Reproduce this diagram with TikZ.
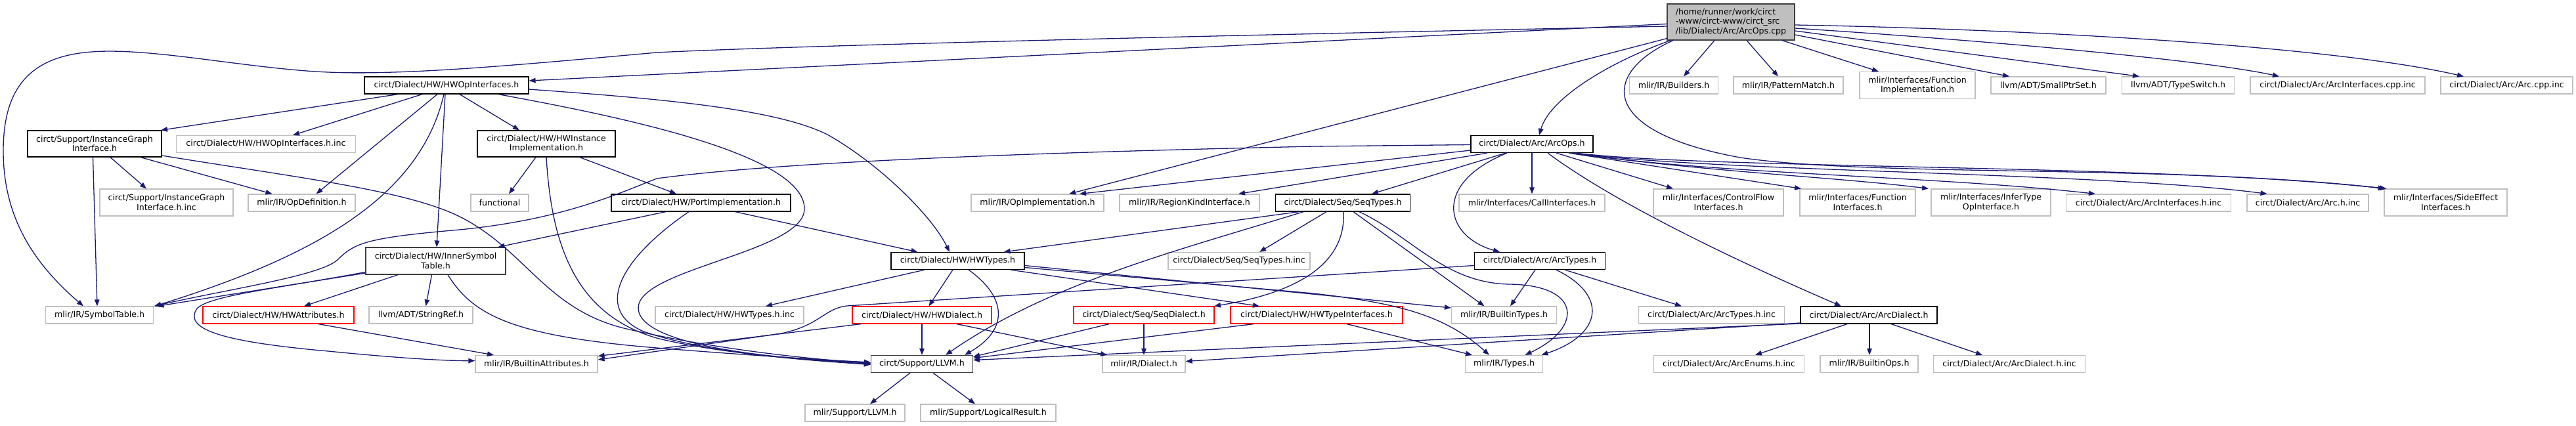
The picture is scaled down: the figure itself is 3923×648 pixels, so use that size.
\documentclass[tikz,border=0pt]{standalone}
\usepackage{fontspec}
\setmainfont{DejaVu Sans}
\usetikzlibrary{arrows.meta}
\definecolor{edgeblue}{HTML}{191970}
\definecolor{extgrey}{HTML}{BFBFBF}
\definecolor{maingrey}{HTML}{BFBFBF}
\definecolor{darkbd}{HTML}{404040}
\newcommand\dxfont{\fontsize{12.6}{14.5}\selectfont}
\begin{document}
\begin{tikzpicture}[x=1pt,y=-1pt,
  box/.style={rectangle, inner sep=0pt, minimum height=26pt, font=\dxfont, align=center, line width=1.2pt},
  doc/.style={box, draw=black},
  dark/.style={box, draw=darkbd},
  ext/.style={box, draw=extgrey},
  trunc/.style={box, draw=red},
  mainbox/.style={box, draw=darkbd, fill=maingrey, align=left},
  edge/.style={draw=edgeblue, line width=1.3pt, -{Triangle[length=10pt,width=7.5pt]}}]
\useasboundingbox (0,0) rectangle (3923,648);
% row 0
\node[mainbox, minimum width=194pt, minimum height=55pt] (main) at (2636,33.5) {/home/runner/work/circt\\-www/circt-www/circt\_src\\/lib/Dialect/Arc/ArcOps.cpp};
% row 1
\node[doc, minimum width=250pt] (hwopi) at (680,130) {circt/Dialect/HW/HWOpInterfaces.h};
\node[ext, minimum width=135pt] (builders) at (2549,130) {mlir/IR/Builders.h};
\node[ext, minimum width=167pt] (patmatch) at (2723.5,130) {mlir/IR/PatternMatch.h};
\node[ext, minimum width=176pt, minimum height=41pt] (funcimpl) at (2920,130) {mlir/Interfaces/Function\\Implementation.h};
\node[ext, minimum width=175pt] (smallptr) at (3119.5,130) {llvm/ADT/SmallPtrSet.h};
\node[ext, minimum width=171pt] (typeswitch) at (3317,130) {llvm/ADT/TypeSwitch.h};
\node[ext, minimum width=266pt] (arcintcpp) at (3560,130) {circt/Dialect/Arc/ArcInterfaces.cpp.inc};
\node[ext, minimum width=201pt] (arccppinc) at (3817.5,130) {circt/Dialect/Arc/Arc.cpp.inc};
% row 2
\node[doc, minimum width=204pt, minimum height=40pt] (igi) at (144,219) {circt/Support/InstanceGraph\\Interface.h};
\node[ext, minimum width=273pt] (hwopiinc) at (405,219.5) {circt/Dialect/HW/HWOpInterfaces.h.inc};
\node[doc, minimum width=210pt, minimum height=40pt] (hwinst) at (832,219) {circt/Dialect/HW/HWInstance\\Implementation.h};
\node[doc, minimum width=186pt] (arcopsh) at (2333,219.5) {circt/Dialect/Arc/ArcOps.h};
% row 3
\node[ext, minimum width=203pt, minimum height=41pt] (igiinc) at (253.5,308.5) {circt/Support/InstanceGraph\\Interface.h.inc};
\node[ext, minimum width=163pt] (opdef) at (459.5,309) {mlir/IR/OpDefinition.h};
\node[ext, minimum width=88pt] (functional) at (761,309) {functional};
\node[doc, minimum width=273pt] (portimpl) at (1067.5,309) {circt/Dialect/HW/PortImplementation.h};
\node[ext, minimum width=202pt] (opimpl) at (1580,309) {mlir/IR/OpImplementation.h};
\node[ext, minimum width=213pt] (regionkind) at (1811.5,309) {mlir/IR/RegionKindInterface.h};
\node[doc, minimum width=205pt] (seqtypes) at (2045,309) {circt/Dialect/Seq/SeqTypes.h};
\node[ext, minimum width=222pt] (callint) at (2333,309) {mlir/Interfaces/CallInterfaces.h};
\node[ext, minimum width=198pt, minimum height=41pt] (cfint) at (2617,308.5) {mlir/Interfaces/ControlFlow\\Interfaces.h};
\node[ext, minimum width=176pt, minimum height=41pt] (fnint) at (2829,308.5) {mlir/Interfaces/Function\\Interfaces.h};
\node[ext, minimum width=182pt, minimum height=41pt] (infertype) at (3032,308.5) {mlir/Interfaces/InferType\\OpInterface.h};
\node[ext, minimum width=251pt] (arcinthinc) at (3272,309) {circt/Dialect/Arc/ArcInterfaces.h.inc};
\node[ext, minimum width=185pt] (archinc) at (3514.5,309) {circt/Dialect/Arc/Arc.h.inc};
\node[ext, minimum width=187pt, minimum height=41pt] (sideeff) at (3724.5,308.5) {mlir/Interfaces/SideEffect\\Interfaces.h};
% row 4
\node[dark, minimum width=213pt, minimum height=41pt] (innersym) at (663.5,397.5) {circt/Dialect/HW/InnerSymbol\\Table.h};
\node[doc, minimum width=203pt] (hwtypes) at (1458.5,397.5) {circt/Dialect/HW/HWTypes.h};
\node[ext, minimum width=216pt] (seqtypesinc) at (1887,397.5) {circt/Dialect/Seq/SeqTypes.h.inc};
\node[doc, minimum width=199pt] (arctypes) at (2345,397.5) {circt/Dialect/Arc/ArcTypes.h};
% row 5
\node[ext, minimum width=164pt] (symtab) at (151.5,480) {mlir/IR/SymbolTable.h};
\node[trunc, minimum width=230pt] (hwattr) at (424,480) {circt/Dialect/HW/HWAttributes.h};
\node[ext, minimum width=158pt] (stringref) at (641,480) {llvm/ADT/StringRef.h};
\node[ext, minimum width=226pt] (hwtypesinc) at (1111,480) {circt/Dialect/HW/HWTypes.h.inc};
\node[trunc, minimum width=212pt] (hwdialect) at (1404,480) {circt/Dialect/HW/HWDialect.h};
\node[trunc, minimum width=214pt] (seqdialect) at (1742,480) {circt/Dialect/Seq/SeqDialect.h};
\node[trunc, minimum width=262pt] (hwtypeint) at (2005,480) {circt/Dialect/HW/HWTypeInterfaces.h};
\node[ext, minimum width=160pt] (builtintypes) at (2290.5,480) {mlir/IR/BuiltinTypes.h};
\node[ext, minimum width=222pt] (arctypesinc) at (2606.5,480) {circt/Dialect/Arc/ArcTypes.h.inc};
\node[doc, minimum width=208pt] (arcdialect) at (2846,480) {circt/Dialect/Arc/ArcDialect.h};
% row 6
\node[ext, minimum width=186pt] (builtinattr) at (817,554.5) {mlir/IR/BuiltinAttributes.h};
\node[dark, minimum width=155pt] (llvmh) at (1404,554.5) {circt/Support/LLVM.h};
\node[ext, minimum width=126pt] (dialecth) at (1742,554.5) {mlir/IR/Dialect.h};
\node[ext, minimum width=118pt] (typesh) at (2290.5,554.5) {mlir/IR/Types.h};
\node[ext, minimum width=229pt] (arcenums) at (2633,554.5) {circt/Dialect/Arc/ArcEnums.h.inc};
\node[ext, minimum width=149pt] (builtinops) at (2846.5,554.5) {mlir/IR/BuiltinOps.h};
\node[ext, minimum width=231pt] (arcdialinc) at (3060,554.5) {circt/Dialect/Arc/ArcDialect.h.inc};
% row 7
\node[ext, minimum width=152pt] (mlirllvm) at (1302,629) {mlir/Support/LLVM.h};
\node[ext, minimum width=206pt] (logicalres) at (1505,629) {mlir/Support/LogicalResult.h};

% ---- edges from main
\draw[edge] ([yshift=-3pt]main.west) -- ([yshift=7pt]hwopi.east);
\draw[edge] ([yshift=-6.5pt]main.west) .. controls (1800,55) and (1200,70) .. (1000,80)
  .. controls (800,98) and (620,115) .. (500,110) .. controls (380,105) and (230,72) .. (140,79)
  .. controls (40,86) and (5,140) .. (5,230) .. controls (5,330) and (50,400) .. ([xshift=-24.5pt]symtab.north);
\draw[edge] ([xshift=-92pt]main.south) .. controls (2450,95) and (2360,150) .. ([xshift=11pt]arcopsh.north);
\draw[edge] ([yshift=3pt]main.south west) -- ([xshift=48pt]opimpl.north);
\draw[edge] ([xshift=-25pt]main.south) -- ([xshift=15pt]builders.north);
\draw[edge] ([xshift=24pt]main.south) -- ([xshift=-15.5pt]patmatch.north);
\draw[edge] ([xshift=78pt]main.south) -- ([xshift=-59pt]funcimpl.north);
\draw[edge] ([yshift=-19.5pt]main.east) -- ([xshift=-59.5pt]smallptr.north);
\draw[edge] ([yshift=-13.5pt]main.east) -- ([xshift=-59pt]typeswitch.north);
\draw[edge] ([yshift=-9.5pt]main.east) .. controls (3000,60) and (3350,90) .. ([xshift=-89pt]arcintcpp.north);
\draw[edge] ([yshift=-4.5pt]main.east) .. controls (3100,45) and (3550,70) .. ([xshift=-65.5pt]arccppinc.north);
\draw[edge] ([xshift=-88pt]main.south) .. controls (2440,110) and (2430,200) .. (2650,240)
  .. controls (2850,270) and (3300,250) .. ([xshift=-90pt]sideeff.north);
% ---- edges from ArcOps.h
\draw[edge] ([yshift=-1pt]arcopsh.west) -- (2000,223) .. controls (1600,232) and (1200,245) .. (1000,272)
  .. controls (930,300) and (850,335) .. (700,350) .. controls (560,362) and (540,370) .. (515,395)
  .. controls (490,420) and (350,440) .. ([xshift=83pt]symtab.north);
\draw[edge] ([yshift=-9.5pt]arcopsh.west) -- ([xshift=64pt]opimpl.north);
\draw[edge] ([xshift=-68pt]arcopsh.south) -- ([xshift=74.5pt]regionkind.north);
\draw[edge] ([xshift=-40pt]arcopsh.south) -- ([xshift=44pt]seqtypes.north);
\draw[edge] (arcopsh.south) -- (callint.north);
\draw[edge] ([xshift=-38pt]arcopsh.south) .. controls (2180,280) and (2200,360) .. ([xshift=-61pt]arctypes.north);
\draw[edge] ([xshift=24pt]arcopsh.south) .. controls (2460,310) and (2650,400) .. ([xshift=-42pt]arcdialect.north);
\draw[edge] ([xshift=37pt]arcopsh.south) -- ([xshift=-69pt]cfint.north);
\draw[edge] ([xshift=56pt]arcopsh.south) -- ([xshift=-86pt]fnint.north);
\draw[edge] ([xshift=59pt]arcopsh.south) .. controls (2600,262) and (2800,270) .. ([xshift=-95pt]infertype.north);
\draw[edge] ([xshift=62pt]arcopsh.south) .. controls (2600,265) and (2950,268) .. ([xshift=-81pt]arcinthinc.north);
\draw[edge] ([xshift=65pt]arcopsh.south) .. controls (2600,262) and (3200,262) .. ([xshift=-62pt]archinc.north);
\draw[edge] ([xshift=67pt]arcopsh.south) .. controls (2600,258) and (3300,250) .. ([xshift=-93pt]sideeff.north);
% ---- edges from HWOpInterfaces.h
\draw[edge] ([xshift=-74pt]hwopi.south) -- ([xshift=101pt]igi.north);
\draw[edge] ([xshift=-37pt]hwopi.south) -- ([xshift=41pt]hwopiinc.north);
\draw[edge] ([xshift=-14pt]hwopi.south) -- ([xshift=22pt]opdef.north);
\draw[edge] ([xshift=-4pt]hwopi.south) .. controls (640,300) and (480,390) .. ([xshift=84pt]symtab.north);
\draw[edge] ([xshift=-2pt]hwopi.south) -- ([xshift=1.5pt]innersym.north);
\draw[edge] ([xshift=20pt]hwopi.south) -- ([xshift=-41pt]hwinst.north);
\draw[edge] ([yshift=-6pt]hwopi.east) .. controls (1000,150) and (1180,165) .. (1260,205)
  .. controls (1340,250) and (1420,330) .. ([xshift=-12.5pt]hwtypes.north);
\draw[edge] ([xshift=79pt]hwopi.south) .. controls (900,170) and (1230,230) .. (1225,320)
  .. controls (1220,385) and (970,410) .. (972,470) .. controls (975,530) and (1200,548) .. ([yshift=2pt]llvmh.west);
% ---- edges from InstanceGraphInterface.h
\draw[edge] ([xshift=24pt]igi.south) -- ([xshift=-30.5pt]igiinc.north);
\draw[edge] ([xshift=70pt]igi.south) -- ([xshift=-45pt]opdef.north);
\draw[edge] ([xshift=-2.5pt]igi.south) -- ([xshift=-3.5pt]symtab.north);
\draw[edge] ([yshift=-18pt]igi.east) .. controls (450,270) and (620,290) .. (700,330)
  .. controls (800,380) and (830,470) .. (950,500) .. controls (1100,535) and (1250,548) .. ([yshift=1pt]llvmh.west);
% ---- edges from HWInstanceImplementation.h
\draw[edge] ([xshift=-16pt]hwinst.south) -- ([xshift=14pt]functional.north);
\draw[edge] ([xshift=51pt]hwinst.south) -- ([xshift=-37.5pt]portimpl.north);
\draw[edge] (hwinst.south) .. controls (840,380) and (880,480) .. (1000,515)
  .. controls (1100,540) and (1250,550) .. (llvmh.west);
% ---- edges from PortImplementation.h
\draw[edge] ([xshift=-53.5pt]portimpl.south) -- ([xshift=95pt]innersym.north);
\draw[edge] ([xshift=52pt]portimpl.south) -- ([xshift=-61pt]hwtypes.north);
\draw[edge] ([xshift=-18.5pt]portimpl.south) .. controls (950,390) and (900,470) .. (980,505)
  .. controls (1080,540) and (1250,550) .. ([yshift=-1pt]llvmh.west);
% ---- edges from InnerSymbolTable.h
\draw[edge] ([yshift=-18.5pt]innersym.west) -- ([xshift=88pt]symtab.north);
\draw[edge] ([yshift=-17pt]innersym.west) .. controls (420,440) and (320,450) .. (300,470)
  .. controls (280,500) and (330,520) .. (500,535) .. controls (600,545) and (680,550) .. ([yshift=5pt]builtinattr.west);
\draw[edge] ([xshift=-57.5pt]innersym.south) -- ([xshift=39pt]hwattr.north);
\draw[edge] ([xshift=-6pt]innersym.south) -- ([xshift=7.5pt]stringref.north);
\draw[edge] ([xshift=18.5pt]innersym.south) .. controls (720,480) and (780,512) .. (1000,530)
  .. controls (1150,542) and (1250,548) .. ([yshift=2.5pt]llvmh.west);
% ---- HWAttributes
\draw[edge] ([xshift=61pt]hwattr.south) -- ([xshift=-65pt]builtinattr.north);
% ---- HWTypes.h
\draw[edge] ([xshift=-50.5pt]hwtypes.south) -- ([xshift=55pt]hwtypesinc.north);
\draw[edge] ([xshift=-7.5pt]hwtypes.south) -- ([xshift=10.5pt]hwdialect.north);
\draw[edge] ([xshift=16.5pt]hwtypes.south) .. controls (1530,450) and (1540,500) .. ([xshift=65pt]llvmh.north);
\draw[edge] ([xshift=80.5pt]hwtypes.south) -- ([xshift=-87pt]hwtypeint.north);
\draw[edge] ([yshift=-7pt]hwtypes.east) -- ([yshift=11pt]builtintypes.west);
\draw[edge] ([yshift=-10pt]hwtypes.east) -- (2000,447) .. controls (2130,462) and (2200,480) .. ([xshift=-22.5pt]typesh.north);
% ---- HWDialect.h
\draw[edge] ([xshift=-93pt]hwdialect.south) -- ([yshift=12pt]builtinattr.east);
\draw[edge] (hwdialect.south) -- (llvmh.north);
\draw[edge] ([xshift=53pt]hwdialect.south) -- ([xshift=-56pt]dialecth.north);
% ---- SeqDialect.h
\draw[edge] ([xshift=-53pt]seqdialect.south) -- ([yshift=11pt]llvmh.east);
\draw[edge] (seqdialect.south) -- (dialecth.north);
% ---- HWTypeInterfaces.h
\draw[edge] ([xshift=-96pt]hwtypeint.south) -- ([yshift=9pt]llvmh.east);
\draw[edge] ([xshift=46pt]hwtypeint.south) -- ([xshift=-48.5pt]typesh.north);
% ---- SeqTypes.h
\draw[edge] ([xshift=-25pt]seqtypes.south) -- ([xshift=31pt]seqtypesinc.north);
\draw[edge] ([xshift=-67pt]seqtypes.south) -- ([xshift=70pt]hwtypes.north);
\draw[edge] ([xshift=-60pt]seqtypes.south) .. controls (1800,380) and (1600,430) .. ([xshift=36pt]llvmh.north);
\draw[edge] ([xshift=1pt]seqtypes.south) .. controls (2050,400) and (1980,445) .. ([xshift=107pt]seqdialect.north);
\draw[edge] ([xshift=16pt]seqtypes.south) -- ([xshift=-30pt]builtintypes.north);
\draw[edge] ([xshift=25pt]seqtypes.south) .. controls (2150,360) and (2200,432) .. (2300,433)
  .. controls (2410,435) and (2410,500) .. ([xshift=32pt]typesh.north);
% ---- ArcTypes.h
\draw[edge] ([yshift=-7pt]arctypes.west) -- (1290,466) .. controls (1255,470) and (1250,495) .. (1190,508)
  -- ([yshift=6.5pt]builtinattr.east);
\draw[edge] ([xshift=-7pt]arctypes.south) -- ([xshift=9.5pt]builtintypes.north);
\draw[edge] ([xshift=25pt]arctypes.south) .. controls (2450,450) and (2440,510) .. ([xshift=57pt]typesh.north);
\draw[edge] ([xshift=38pt]arctypes.south) -- ([xshift=-45.5pt]arctypesinc.north);
% ---- ArcDialect.h
\draw[edge] ([yshift=-13pt]arcdialect.west) -- ([yshift=6pt]llvmh.east);
\draw[edge] ([yshift=-12pt]arcdialect.west) -- ([yshift=4pt]dialecth.east);
\draw[edge] ([xshift=-33pt]arcdialect.south) -- ([xshift=40pt]arcenums.north);
\draw[edge] ([xshift=1pt]arcdialect.south) -- ([xshift=0.5pt]builtinops.north);
\draw[edge] ([xshift=34pt]arcdialect.south) -- ([xshift=-41pt]arcdialinc.north);
% ---- LLVM.h
\draw[edge] ([xshift=-18pt]llvmh.south) -- ([xshift=23pt]mlirllvm.north);
\draw[edge] ([xshift=17pt]llvmh.south) -- ([xshift=-20pt]logicalres.north);
\end{tikzpicture}
\end{document}
